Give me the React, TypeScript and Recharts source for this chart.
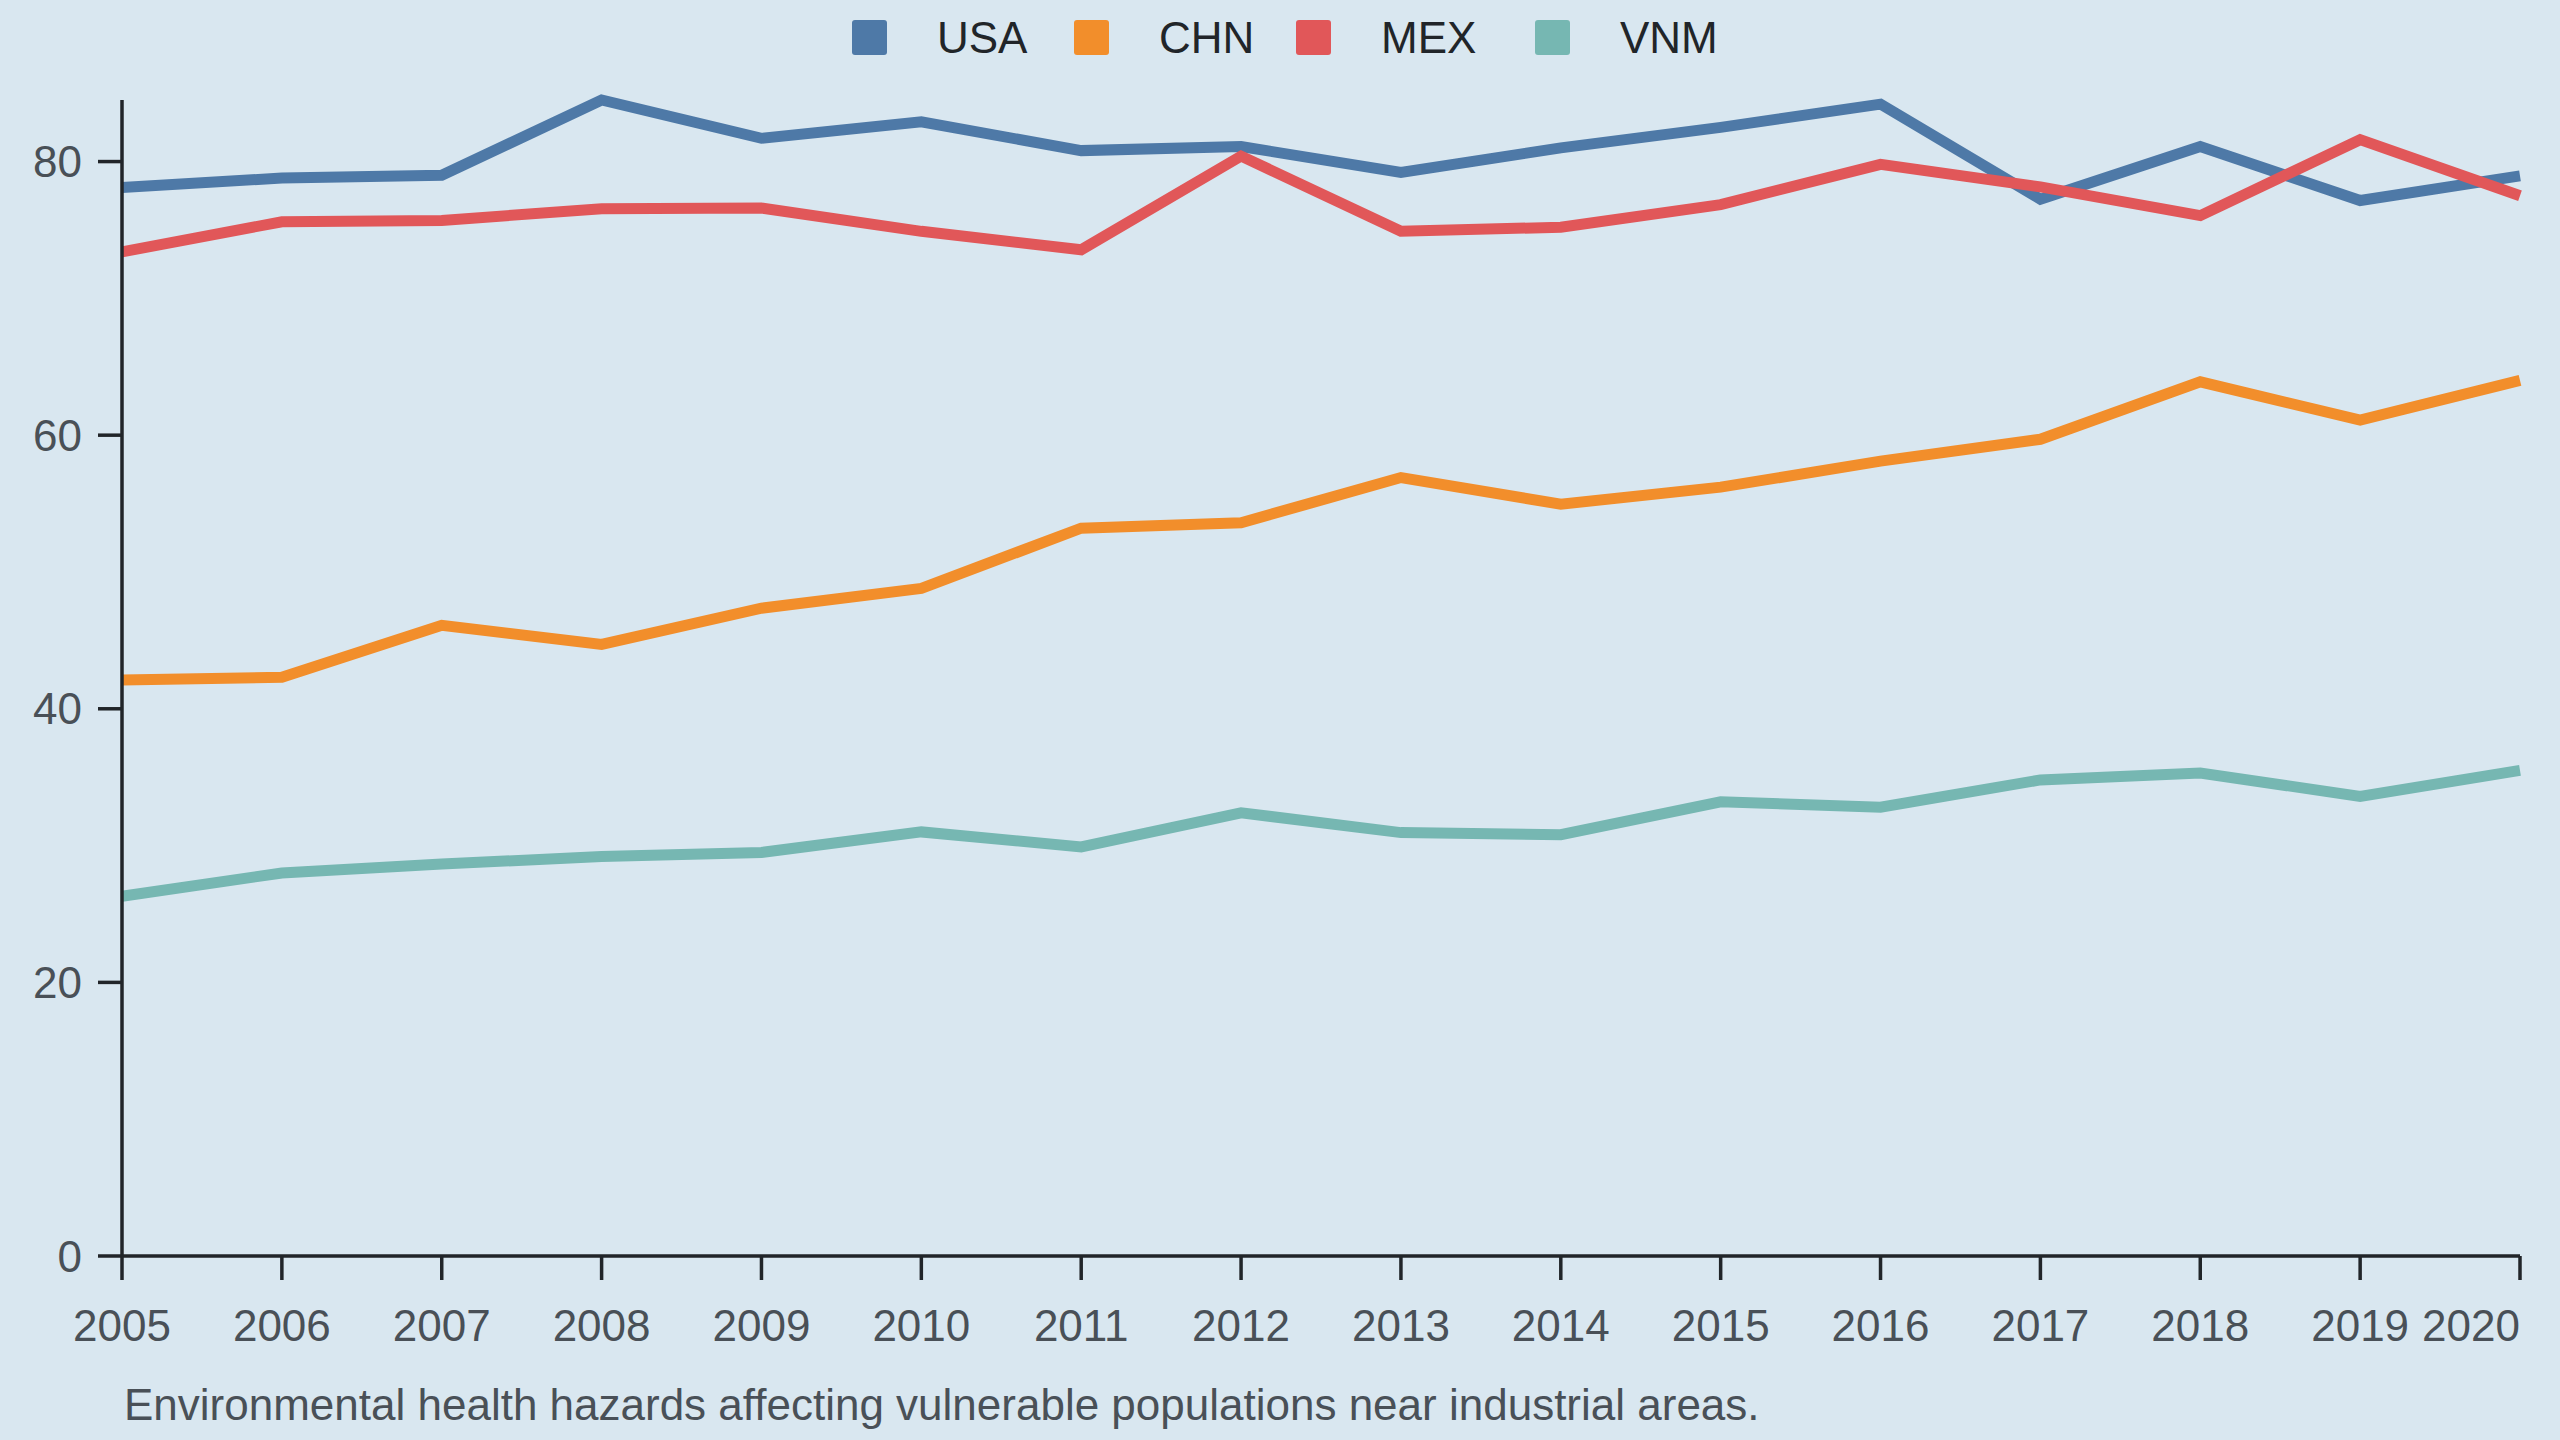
import React from 'react';
import { LineChart, Line, XAxis, YAxis, Legend } from 'recharts';

const years = ['2005', '2006', '2007', '2008', '2009', '2010', '2011', '2012', '2013', '2014', '2015', '2016', '2017', '2018', '2019', '2020'];
const usa = [78.1, 78.8, 79.0, 84.5, 81.7, 82.9, 80.8, 81.1, 79.2, 81.0, 82.5, 84.2, 77.25, 81.1, 77.15, 78.95];
const chn = [42.1, 42.3, 46.1, 44.7, 47.35, 48.8, 53.2, 53.6, 56.9, 54.95, 56.2, 58.1, 59.7, 63.9, 61.1, 64.0];
const mex = [73.4, 75.6, 75.7, 76.55, 76.6, 74.9, 73.55, 80.4, 74.9, 75.2, 76.85, 79.8, 78.15, 76.05, 81.6, 77.5];
const vnm = [26.3, 28.0, 28.65, 29.2, 29.5, 31.0, 29.9, 32.4, 30.95, 30.8, 33.2, 32.8, 34.8, 35.3, 33.6, 35.5];
const yTicks = [0, 20, 40, 60, 80];
const seriesNames = ['USA', 'CHN', 'MEX', 'VNM'];
const seriesColors = ['#4e79a7', '#f28e2b', '#e15759', '#76b7b2'];
const caption = 'Environmental health hazards affecting vulnerable populations near industrial areas.';

const data = years.map((year, i) => ({ year, USA: usa[i], CHN: chn[i], MEX: mex[i], VNM: vnm[i] }));

const FONT = '"Liberation Sans", Arial, Helvetica, sans-serif';
const BG = '#d9e7f0';
const AXIS = '#212529';
const TICK_TEXT = '#495057';
const FS = 44;
const legendWidths = [222, 222, 239, 180];

const renderLegend = (props: any) => {
  const payload = [...(props.payload || [])].sort(
    (a: any, b: any) => seriesNames.indexOf(a.value) - seriesNames.indexOf(b.value)
  );
  return (
    <div style={{ display: 'flex', justifyContent: 'center', height: 75, paddingLeft: 7, fontFamily: FONT }}>
      {payload.map((entry: any, i: number) => (
        <div key={entry.value} style={{ width: legendWidths[i] ?? 180, display: 'flex', alignItems: 'flex-start', paddingTop: 20 }}>
          <div style={{ width: 35, height: 35, borderRadius: 3, background: entry.color, flex: 'none' }} />
          <div style={{ marginLeft: 50, fontSize: FS, lineHeight: '35px', color: AXIS, whiteSpace: 'nowrap' }}>{entry.value}</div>
        </div>
      ))}
    </div>
  );
};

const XTick = (props: any) => {
  const { x, y, payload, index } = props;
  const last = index === years.length - 1;
  return (
    <text x={x} y={y} dy="0.71em" textAnchor={last ? 'end' : 'middle'} fill={TICK_TEXT} fontSize={FS} fontFamily={FONT}>
      {payload.value}
    </text>
  );
};

export default function App() {
  return (
    <div style={{ position: 'absolute', left: 0, top: 0, width: 2560, height: 1440, background: BG, overflow: 'hidden' }}>
      <LineChart width={2560} height={1440} data={data} margin={{ top: 25, right: 40, bottom: 124, left: 22 }}>
        <Legend verticalAlign="top" align="center" content={renderLegend} wrapperStyle={{ top: 0, left: 0, width: 2560, height: 75 }} />
        <XAxis
          dataKey="year"
          interval={0}
          height={60}
          tickSize={24}
          tickMargin={30}
          axisLine={{ stroke: AXIS, strokeWidth: 3.5 }}
          tickLine={{ stroke: AXIS, strokeWidth: 3.5 }}
          tick={<XTick />}
        />
        <YAxis
          domain={[0, 'dataMax']}
          ticks={yTicks}
          width={100}
          tickSize={24}
          tickMargin={16}
          axisLine={{ stroke: AXIS, strokeWidth: 3.5 }}
          tickLine={{ stroke: AXIS, strokeWidth: 3.5 }}
          tick={{ fill: TICK_TEXT, fontSize: FS, fontFamily: FONT }}
        />
        {seriesNames.map((name, i) => (
          <Line
            key={name}
            type="linear"
            dataKey={name}
            name={name}
            stroke={seriesColors[i]}
            strokeWidth={11}
            dot={false}
            activeDot={false}
            isAnimationActive={false}
          />
        ))}
      </LineChart>
      <svg width={2560} height={1440} style={{ position: 'absolute', left: 0, top: 0, pointerEvents: 'none' }}>
        <text x={124} y={1420} fill={TICK_TEXT} fontSize={FS} fontFamily={FONT}>{caption}</text>
      </svg>
    </div>
  );
}
